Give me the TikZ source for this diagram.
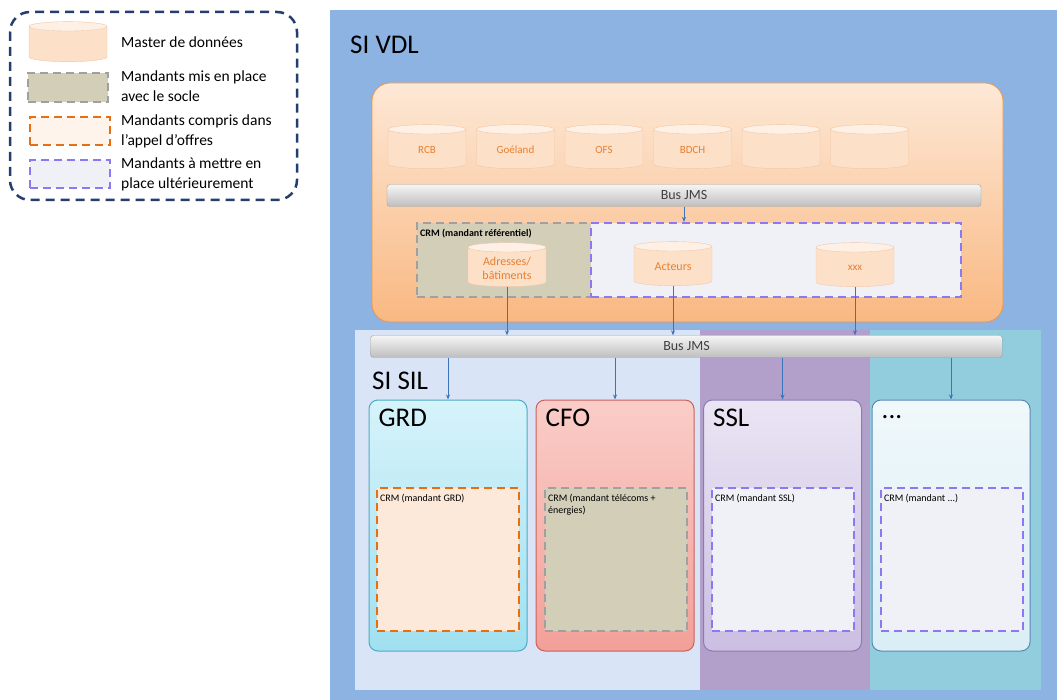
\documentclass[tikz,border=0pt]{standalone}
\usepackage{fontspec}
\setmainfont{Carlito}
\usepackage{tikz}
\usetikzlibrary{shapes.geometric,arrows.meta,positioning}
\definecolor{vdlblue}{RGB}{141,179,226}
\definecolor{silpale}{RGB}{218,228,247}
\definecolor{sslstrip}{RGB}{178,160,202}
\definecolor{etcstrip}{RGB}{146,205,221}
\definecolor{legendnavy}{RGB}{36,62,110}
\definecolor{orangeline}{RGB}{240,150,70}
\definecolor{orangetop}{RGB}{253,232,214}
\definecolor{orangebot}{RGB}{249,184,130}
\definecolor{cylbody}{RGB}{252,224,200}
\definecolor{cyltop}{RGB}{254,240,228}
\definecolor{cylline}{RGB}{240,200,170}
\definecolor{cyltext}{RGB}{232,128,50}
\definecolor{bustop}{RGB}{245,245,245}
\definecolor{busbot}{RGB}{190,190,190}
\definecolor{busline}{RGB}{160,160,160}
\definecolor{flowblue}{RGB}{60,115,185}
\definecolor{soclefill}{RGB}{210,206,184}
\definecolor{socleline}{RGB}{160,160,160}
\definecolor{offrefill}{RGB}{252,233,218}
\definecolor{offreline}{RGB}{230,110,20}
\definecolor{futurfill}{RGB}{240,241,246}
\definecolor{futurline}{RGB}{140,120,240}
\definecolor{grdtop}{RGB}{214,243,250}
\definecolor{grdbot}{RGB}{160,224,240}
\definecolor{grdline}{RGB}{75,172,198}
\definecolor{cfotop}{RGB}{250,205,200}
\definecolor{cfobot}{RGB}{242,160,152}
\definecolor{cfoline}{RGB}{205,95,90}
\definecolor{ssltop}{RGB}{234,229,244}
\definecolor{sslbot}{RGB}{203,190,226}
\definecolor{sslline}{RGB}{140,122,180}
\definecolor{etctop}{RGB}{240,248,251}
\definecolor{etcbot}{RGB}{218,238,245}
\definecolor{etcline}{RGB}{90,135,185}

\begin{document}
\begin{tikzpicture}[x=1pt,y=-1pt,
    master/.style={cylinder, shape border rotate=90, aspect=0.12,
        cylinder uses custom fill, cylinder body fill=cylbody, cylinder end fill=cyltop,
        draw=cylline, thin, text width=72, minimum height=44, inner sep=3pt,
        text=cyltext, align=center, font=\fontsize{11}{13}\selectfont},
    bus/.style={draw=busline, rounded corners=3, top color=bustop, bottom color=busbot,
        text=black!75, font=\fontsize{14}{16}\selectfont},
    socle/.style={draw=socleline, fill=soclefill, line width=2.2pt, dash pattern=on 8pt off 5pt},
    offre/.style={draw=offreline, fill=offrefill, line width=2.2pt, dash pattern=on 8pt off 5pt},
    futur/.style={draw=futurline, fill=futurfill, line width=2.2pt, dash pattern=on 8pt off 5pt},
    unit/.style={rounded corners=9, line width=1pt, minimum width=158, minimum height=251},
    crmbox/.style={minimum width=142, minimum height=143},
    crmlabel/.style={anchor=north west, align=left, inner sep=0pt, font=\fontsize{10}{12}\selectfont},
    bigtitle/.style={anchor=west, inner sep=0pt, font=\fontsize{27}{30}\selectfont},
    legendtext/.style={anchor=west, align=left, inner sep=0pt, font=\fontsize{15.5}{20}\selectfont},
    flow/.style={draw=flowblue, thick, -{Stealth[length=5pt,width=4pt]}}]
    \useasboundingbox (0,0) rectangle (1057,700);
    \fill[white] (0,0) rectangle (1057,700);

    % legend
    \draw[legendnavy, line width=2.5pt, dash pattern=on 9pt off 6pt, rounded corners=20, fill=white] (10,12) rectangle (297,200);
    \node[master, minimum height=40] (lgmaster) at (68,45) {};
    \node[socle, minimum width=80, minimum height=29] (lgsocle) at (68,87.5) {};
    \node[offre, fill=offrefill!50, minimum width=80, minimum height=28] (lgoffre) at (70,131) {};
    \node[futur, minimum width=80, minimum height=28] (lgfutur) at (70,174) {};
    \node[legendtext] (txmaster) at (121,42) {Master de données};
    \node[legendtext] (txsocle) at (121,86) {Mandants mis en place\\avec le socle};
    \node[legendtext] (txoffre) at (121,131) {Mandants compris dans\\l’appel d’offres};
    \node[legendtext] (txfutur) at (121,174) {Mandants à mettre en\\place ultérieurement};

    % SI VDL
    \fill[vdlblue] (330,10) rectangle (1057,700);
    \node[bigtitle] (sivdl) at (350,45) {SI VDL};
    \draw[orangeline, thick, rounded corners=18, top color=orangetop, bottom color=orangebot] (372,83) rectangle (1003,322);
    \foreach \name/\lab [count=\i from 0] in {rcb/RCB, goeland/Goéland, ofs/OFS, bdch/BDCH, mfive/, msix/}
        \node[master] (\name) at ({427+88.5*\i},150) {\lab};
    \node[bus, minimum width=594, minimum height=22] (busvdl) at (684,195.5) {Bus JMS};

    % CRM referentiel
    \node[socle, minimum width=178, minimum height=74] (crmsocle) at (506,260) {};
    \node[futur, minimum width=370, minimum height=74] (crm) at (776,260) {};
    \node[crmlabel, font=\fontsize{10}{12}\selectfont\bfseries] (crmref) at (420,229) {CRM (mandant référentiel)};
    \node[master, minimum height=44, font=\fontsize{12}{14}\selectfont] (adresses) at (507,268) {Adresses/\\bâtiments};
    \node[master, font=\fontsize{12}{14}\selectfont] (acteurs) at (673,267) {Acteurs};
    \node[master] (xxx) at (855,268) {xxx};
    \draw[flow] (busvdl.south) -- (busvdl.south |- crm.north);

    % SI SIL
    \fill[silpale] (355,330) rectangle (700,690);
    \fill[sslstrip] (700,330) rectangle (870,690);
    \fill[etcstrip] (870,330) rectangle (1041,690);
    \node[bus, minimum width=632, minimum height=22] (bussil) at (686.5,346.5) {Bus JMS};
    \node[bigtitle] (sisil) at (372,381) {SI SIL};
    \foreach \src in {adresses,acteurs,xxx}
        \draw[flow] (\src.south) -- (\src.south |- bussil.north);

    % mandants
    \node[unit, draw=grdline, top color=grdtop, bottom color=grdbot] (grd) at (448,525.5) {};
    \node[unit, draw=cfoline, top color=cfotop, bottom color=cfobot] (cfo) at (615,525.5) {};
    \node[unit, draw=sslline, top color=ssltop, bottom color=sslbot] (ssl) at (782.5,525.5) {};
    \node[unit, draw=etcline, top color=etctop, bottom color=etcbot] (etc) at (951,525.5) {};
    \node[bigtitle] at ([shift={(10,18)}]grd.north west) {GRD};
    \node[bigtitle] at ([shift={(10,18)}]cfo.north west) {CFO};
    \node[bigtitle] at ([shift={(10,18)}]ssl.north west) {SSL};
    \node[bigtitle] at ([shift={(10,18)}]etc.north west) {...};
    \node[crmbox, offre] (crmgrd) at (448,559.5) {};
    \node[crmbox, socle] (crmcfo) at (616,559.5) {};
    \node[crmbox, futur] (crmssl) at (783,559.5) {};
    \node[crmbox, futur] (crmetc) at (952,559.5) {};
    \node[crmlabel] at ([shift={(4,7)}]crmgrd.north west) {CRM (mandant GRD)};
    \node[crmlabel] at ([shift={(4,7)}]crmcfo.north west) {CRM (mandant télécoms +\\énergies)};
    \node[crmlabel] at ([shift={(4,7)}]crmssl.north west) {CRM (mandant SSL)};
    \node[crmlabel] at ([shift={(4,7)}]crmetc.north west) {CRM (mandant ...)};
    \foreach \dst in {grd,cfo,ssl,etc}
        \draw[flow] (bussil.south -| \dst.north) -- (\dst.north);
\end{tikzpicture}
\end{document}
